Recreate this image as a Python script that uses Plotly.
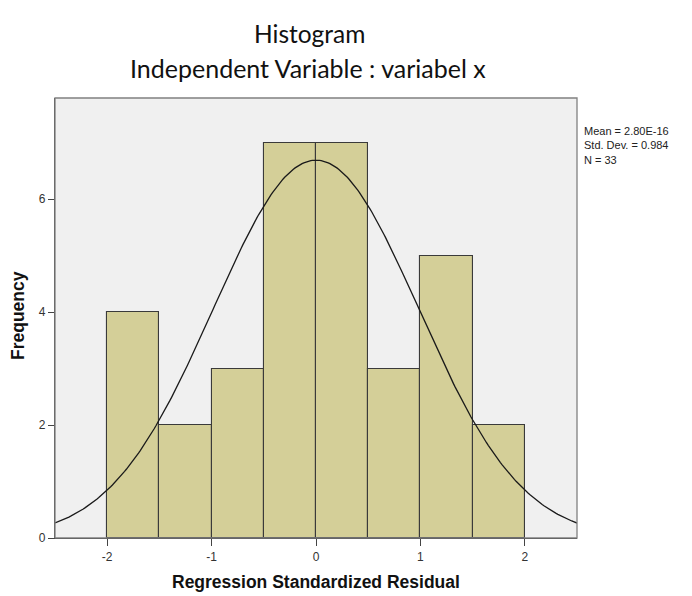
import numpy as np
import plotly.graph_objects as go

# Data
bin_starts = [-2.0, -1.5, -1.0, -0.5, 0.0, 0.5, 1.0, 1.5]
bin_width = 0.5
counts = [4, 2, 3, 7, 7, 3, 5, 2]
mean_val = 2.80e-16
std_dev = 0.984
n_obs = 33
x_ticks = [-2, -1, 0, 1, 2]
y_ticks = [0, 2, 4, 6]
stats_lines = ["Mean = 2.80E-16", "Std. Dev. = 0.984", "N = 33"]

centers = [b + bin_width / 2 for b in bin_starts]

# Fitted normal curve from the reported statistics
xs = np.linspace(-2.5, 2.5, 301)
ys = n_obs * bin_width / (std_dev * np.sqrt(2 * np.pi)) * np.exp(-0.5 * ((xs - mean_val) / std_dev) ** 2)

# Layout geometry (figure pixels; page adds an 8px body margin)
OFF = 8
L, T, PW, PH = 55 - OFF, 98 - OFF, 522, 440
W, H = 692, 596
R = W - L - PW
B = H - T - PH


def px(X):  # screenshot x -> paper x
    return (X - OFF - L) / PW


def py(Y):  # screenshot y -> paper y
    return (T + PH - (Y - OFF)) / PH


fig = go.Figure()
fig.add_trace(go.Bar(
    x=centers, y=counts, width=bin_width,
    marker=dict(color="#D4CF98", line=dict(color="#3a3a3a", width=1.1)),
    hoverinfo="x+y",
))
fig.add_trace(go.Scatter(
    x=xs, y=ys, mode="lines",
    line=dict(color="#1a1a1a", width=1.3),
    hoverinfo="skip",
))

ARIAL = "Liberation Sans, Arial, sans-serif"
TITLEF = "Lato, Noto Sans, sans-serif"

annotations = [
    dict(text="Histogram", x=px(309), y=py(33), xref="paper", yref="paper",
         xanchor="center", yanchor="middle", showarrow=False,
         font=dict(family=TITLEF, size=24.5, color="#111111")),
    dict(text="Independent Variable : variabel x", x=px(308), y=py(68), xref="paper", yref="paper",
         xanchor="center", yanchor="middle", showarrow=False,
         font=dict(family=TITLEF, size=25, color="#111111")),
    dict(text="<b>Regression Standardized Residual</b>", x=px(316), y=py(582), xref="paper", yref="paper",
         xanchor="center", yanchor="middle", showarrow=False,
         font=dict(family=ARIAL, size=17.5, color="#111111")),
    dict(text="<b>Frequency</b>", x=px(18), y=py(316), xref="paper", yref="paper",
         xanchor="center", yanchor="middle", showarrow=False, textangle=-90,
         font=dict(family=ARIAL, size=17.5, color="#111111")),
    dict(text="<br>".join(stats_lines), x=px(582), y=py(123), xref="paper", yref="paper",
         xanchor="left", yanchor="top", align="left", showarrow=False,
         font=dict(family=ARIAL, size=11, color="#222222")),
]

fig.update_layout(
    width=W, height=H,
    margin=dict(l=L, r=R, t=T, b=B, pad=0),
    paper_bgcolor="white",
    plot_bgcolor="#F0F0F0",
    showlegend=False,
    bargap=0,
    font=dict(family=ARIAL, size=12, color="#333333"),
    xaxis=dict(
        range=[-2.5, 2.5], tickvals=x_ticks, ticktext=[str(v) for v in x_ticks],
        ticks="outside", ticklen=7, tickcolor="#444444", tickwidth=1.2,
        showgrid=False, zeroline=False,
        showline=True, linecolor="#1a1a1a", linewidth=1.3,
        tickfont=dict(size=12, color="#333333"),
    ),
    yaxis=dict(
        range=[0, 7.79], tickvals=y_ticks, ticktext=[str(v) for v in y_ticks],
        ticks="outside", ticklen=6, tickcolor="#444444", tickwidth=1.2,
        showgrid=False, zeroline=False,
        showline=True, linecolor="#444444", linewidth=1.3,
        tickfont=dict(size=12, color="#333333"),
    ),
    shapes=[dict(type="rect", xref="paper", yref="paper", x0=0, y0=0, x1=1, y1=1,
                 line=dict(color="#808080", width=1.3), layer="above")],
    annotations=annotations,
)

fig.write_html("out.html")
